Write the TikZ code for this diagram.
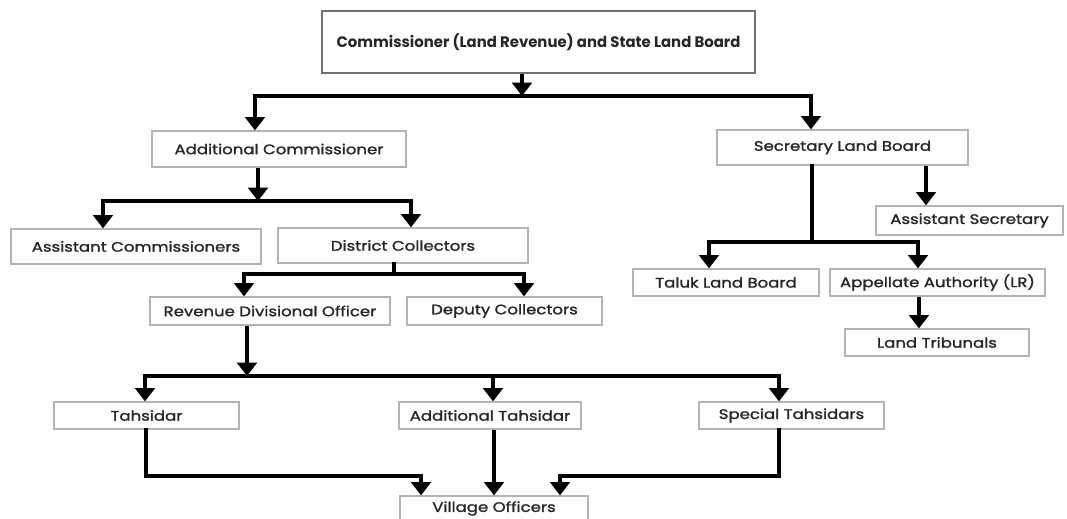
\documentclass[tikz,border=0pt]{standalone}
\usepackage{fontspec}
\setmainfont{Poppins}[FakeStretch=1.2, FakeBold=1.4]
\newfontfamily\headfont{Poppins}[FakeStretch=0.98]
\usetikzlibrary{arrows.meta, calc, positioning}
\definecolor{Ink}   {HTML}{262626}
\definecolor{Frame} {HTML}{B4B4B4}
\definecolor{FrameD}{HTML}{707070}
\tikzset{
  obox/.style args={#1/#2}{
    rectangle, draw=Frame, fill=white, text=Ink,
    font=\fontsize{9.8}{11}\selectfont, align=center,
    inner sep=0pt, minimum width=#1, minimum height=#2,
    line width=0.9pt,
  },
  hbox/.style args={#1/#2}{
    rectangle, draw=FrameD, fill=white, text=Ink,
    font=\headfont\fontsize{10.8}{12}\selectfont\bfseries, align=center,
    inner sep=0pt, minimum width=#1, minimum height=#2,
    line width=1.1pt,
  },
  wire/.style={
    line width=2.2pt, color=black, line cap=rect,
  },
  conn/.style={
    wire, line cap=butt, -{Triangle[length=9.5pt,width=14pt]},
  },
}
\begin{document}
\begin{tikzpicture}[x=0.025cm,y=-0.025cm]
  \useasboundingbox (0,0) rectangle (1067,519);
  % boxes, one row at a time
  \node[hbox=433*0.025cm/62*0.025cm] (cslb) at (538.5,42)
        {Commissioner (Land Revenue) and State Land Board};
  \node[obox=254*0.025cm/36*0.025cm] (addc) at (279,149) {Additional Commissioner};
  \node[obox=251*0.025cm/35*0.025cm] (slb)  at (842.5,147.5) {Secretary Land Board};
  \node[obox=187*0.025cm/29*0.025cm] (asec) at (969.5,220.5) {Assistant Secretary};
  \node[obox=250*0.025cm/35*0.025cm] (ascm) at (136,246.5) {Assistant Commissioners};
  \node[obox=250*0.025cm/35*0.025cm] (dcol) at (403,245.5) {District Collectors};
  \node[obox=186*0.025cm/27*0.025cm] (tlb)  at (726,282.5) {Taluk Land Board};
  \node[obox=215*0.025cm/27*0.025cm] (appa) at (937.5,282.5) {Appellate Authority (LR)};
  \node[obox=240*0.025cm/28*0.025cm] (rdo)  at (270,311) {Revenue Divisional Officer};
  \node[obox=195*0.025cm/28*0.025cm] (dep)  at (504.5,311) {Deputy Collectors};
  \node[obox=184*0.025cm/27*0.025cm] (ltri) at (937,342.5) {Land Tribunals};
  \node[obox=185*0.025cm/27*0.025cm] (tah)  at (146.5,415.5) {Tahsidar};
  \node[obox=182*0.025cm/27*0.025cm] (atah) at (490,415.5) {Additional Tahsidar};
  \node[obox=185*0.025cm/27*0.025cm] (stah) at (791.5,415.5) {Special Tahsidars};
  \node[obox=188*0.025cm/25*0.025cm] (vo)   at (494,508.5) {Village Officers};

  % bends of the connectors
  \coordinate (j1)  at (522,96);
  \coordinate (j1l) at (255,96);
  \coordinate (j1r) at (811,96);
  \coordinate (j2)  at (258,201);
  \coordinate (j2l) at (103,201);
  \coordinate (j2r) at (411,201);
  \coordinate (j3)  at (394,274);
  \coordinate (j3l) at (244,274);
  \coordinate (j3r) at (524,274);
  \coordinate (j4)  at (812,242);
  \coordinate (j4l) at (709,242);
  \coordinate (j4r) at (918,242);
  \coordinate (j5)  at (247,376);
  \coordinate (j5l) at (145,376);
  \coordinate (j5m) at (493,376);
  \coordinate (j5r) at (779,376);
  \coordinate (k1)  at (146,476);
  \coordinate (k1e) at (421,476);
  \coordinate (k2)  at (779,476);
  \coordinate (k2e) at (560,476);

  % commissioner to the two heads
  \draw[conn] (j1 |- cslb.south) -- (j1);
  \draw[wire] (j1l) -- (j1r);
  \draw[conn] (j1l) -- (j1l |- addc.north);
  \draw[conn] (j1r) -- (j1r |- slb.north);

  % additional commissioner branch
  \draw[conn] (j2 |- addc.south) -- (j2);
  \draw[wire] (j2l) -- (j2r);
  \draw[conn] (j2l) -- (j2l |- ascm.north);
  \draw[conn] (j2r) -- (j2r |- dcol.north);
  \draw[wire] (j3 |- dcol.south) -- (j3);
  \draw[wire] (j3l) -- (j3r);
  \draw[conn] (j3l) -- (j3l |- rdo.north);
  \draw[conn] (j3r) -- (j3r |- dep.north);

  % land board branch
  \draw[wire] (j4 |- slb.south) -- (j4);
  \draw[wire] (j4l) -- (j4r);
  \draw[conn] (j4l) -- (j4l |- tlb.north);
  \draw[conn] (j4r) -- (j4r |- appa.north);
  \draw[conn] (926,0 |- slb.south) -- (926,0 |- asec.north);
  \draw[conn] (919,0 |- appa.south) -- (919,0 |- ltri.north);

  % tahsildars and village officers
  \draw[conn] (j5 |- rdo.south) -- (j5);
  \draw[wire] (j5l) -- (j5r);
  \draw[conn] (j5l) -- (j5l |- tah.north);
  \draw[conn] (j5m) -- (j5m |- atah.north);
  \draw[conn] (j5r) -- (j5r |- stah.north);
  \draw[wire] (k1 |- tah.south) -- (k1) -- (k1e);
  \draw[conn] (k1e) -- (k1e |- vo.north);
  \draw[conn] (atah.south -| 494,0) -- (vo.north -| 494,0);
  \draw[wire] (k2 |- stah.south) -- (k2) -- (k2e);
  \draw[conn] (k2e) -- (k2e |- vo.north);
\end{tikzpicture}
\end{document}
